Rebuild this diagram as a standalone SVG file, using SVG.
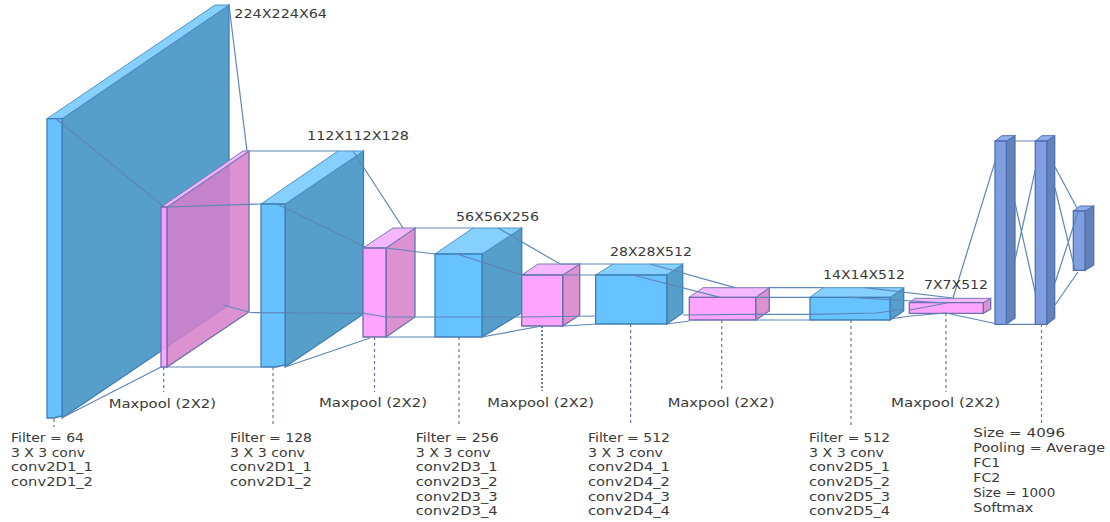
<svg xmlns="http://www.w3.org/2000/svg" width="1110" height="522" viewBox="0 0 1110 522">
<style>
.bf{fill:#66c3ff;stroke:#3f7db5;stroke-width:1.3}
.bt{fill:#85d0ff;stroke:#4f93c8;stroke-width:1}
.bs{fill:#559fca;stroke:#3f7db5;stroke-width:1.3}
.pf{fill:#ff9cff;fill-opacity:.92;stroke:#6b6fb0;stroke-width:1.3}
.pt{fill:#f4b4ff;fill-opacity:.95;stroke:#7a78b8;stroke-width:1}
.ps{fill:#d67fc9;fill-opacity:.86;stroke:#6b6fb0;stroke-width:1.3}
.ff{fill:#7f9fe0;stroke:#4f6fb0;stroke-width:1.3}
.ft{fill:#8fb0ea;stroke:#4f6fb0;stroke-width:1}
.fs{fill:#6282ba;stroke:#4f6fb0;stroke-width:1.3}
.c{fill:none;stroke:#5f86b8;stroke-width:1.2}
.d{fill:none;stroke:#62779f;stroke-width:1.2;stroke-dasharray:3 3}
text{font-family:"DejaVu Sans","Liberation Sans",sans-serif;font-size:11.5px;fill:#3a3a3a}
</style>
<g id="block1">
<polygon class="bs" points="62,118.7 229,5 229,305 62,418"/>
<polygon class="bt" points="47,118.7 62,118.7 229,5 215,5"/>
<polygon class="bf" points="47,118.7 62,118.7 62,416 54,418 47,418"/>
</g>
<g id="block2">
<polygon class="ps" points="167,207 249,151 249,312 167,367"/>
<polygon class="pt" points="161,207 167,207 249,151 243,151"/>
<polygon class="pf" points="161,207 167,207 167,367 161,367"/>
</g>
<g id="block3">
<polygon class="bs" points="285,204 363.5,151 363.5,314 285,367"/>
<polygon class="bt" points="261,204 285,204 363.5,151 338,151"/>
<polygon class="bf" points="261,204 285,204 285,365 276,367 261,367"/>
</g>
<g id="block4">
<polygon class="ps" points="386,248 415,228 415,317 386,337"/>
<polygon class="pt" points="363,248 386,248 415,228 393,228"/>
<polygon class="pf" points="363,248 386,248 386,337 363,337"/>
</g>
<g id="block5">
<polygon class="bs" points="482,254 521.7,228 521.7,313 482,337"/>
<polygon class="bt" points="435,254 482,254 521.7,228 473,228"/>
<polygon class="bf" points="435,254 482,254 482,337 435,337"/>
</g>
<g id="block6">
<polygon class="ps" points="562.7,275 579.7,264 579.7,315 562.7,326"/>
<polygon class="pt" points="521.7,275 562.7,275 579.7,264 538,264"/>
<polygon class="pf" points="521.7,275 562.7,275 562.7,326 521.7,326"/>
</g>
<g id="block7">
<polygon class="bs" points="666.7,275 682.7,264 682.7,313 666.7,324"/>
<polygon class="bt" points="595.7,275 666.7,275 682.7,264 613,264"/>
<polygon class="bf" points="595.7,275 666.7,275 666.7,324 595.7,324"/>
</g>
<g id="block8">
<polygon class="ps" points="755.7,297.3 769.3,287.7 769.3,311 755.7,320"/>
<polygon class="pt" points="689.3,297.3 755.7,297.3 769.3,287.7 703,287.7"/>
<polygon class="pf" points="689.3,297.3 755.7,297.3 755.7,320 689.3,320"/>
</g>
<g id="block9">
<polygon class="bs" points="890,297.3 903.7,287.7 903.7,311 890,320"/>
<polygon class="bt" points="810,297.3 890,297.3 903.7,287.7 823,287.7"/>
<polygon class="bf" points="810,297.3 890,297.3 890,320 810,320"/>
</g>
<g id="block10">
<polygon class="ps" points="983.3,302.7 990.7,298.3 990.7,309 983.3,313.3"/>
<polygon class="pt" points="909.3,302.7 983.3,302.7 990.7,298.3 915,298.3"/>
<polygon class="pf" points="909.3,302.7 983.3,302.7 983.3,313.3 909.3,313.3"/>
</g>
<g id="fc1">
<polygon class="fs" points="1006.3,141 1015,135.7 1015,318 1006.3,324.3"/>
<polygon class="ft" points="995,141 1006.3,141 1015,135.7 1002,135.7"/>
<polygon class="ff" points="995,141 1006.3,141 1006.3,324.3 995,324.3"/>
</g>
<g id="fc2">
<polygon class="fs" points="1046.7,141 1054.7,135.7 1054.7,318 1046.7,324.3"/>
<polygon class="ft" points="1035.3,141 1046.7,141 1054.7,135.7 1042,135.7"/>
<polygon class="ff" points="1035.3,141 1046.7,141 1046.7,324.3 1035.3,324.3"/>
</g>
<g id="fc3">
<polygon class="fs" points="1085,211 1093.7,206 1093.7,265 1085,270.3"/>
<polygon class="ft" points="1073.3,211 1085,211 1093.7,206 1080,206"/>
<polygon class="ff" points="1073.3,211 1085,211 1085,270.3 1073.3,270.3"/>
</g>
<g id="connectors">
<path class="c" d="M229,5L247,151M55,118L163,206M249,151H338M167,207L261,204M277,204L365,247M353,151L403,228M250,312.5L361.7,313.3M223,305L249,312M62,417.7L161,367M167,367H261M285,367L370,338"/>
<path class="c" d="M363,313L385,317L522,317L596,316M386,248L435,254M457,254L522,275L541.7,275M415,228H473M386,337H435M482,337L541.7,326M498,228L560,264H613M562.7,275H596"/>
<path class="c" d="M563,326L596,324M633,275L720,297.3M650,264L735,287.7M683,315L744,314.3H810L877,313L903.7,309M667,324L689.3,321M755.7,320H810M769.3,287.7H823M755.7,297.3H810M850,297.3L947,303M865,287.7L953,298M890,319L910,316L946,313M910,310L947,303"/>
<path class="c" d="M946,313L995,323.5M953,298L995,161.7M1015,141H1035.3M1006,324.3H1035.3M1015,203L1035.3,293M1015,260L1035.3,170M1055,167L1077,208M1055,188L1075,270M1055,283L1078,212M1055,305L1078,272"/>
<path class="d" d="M54,419V427M163.7,367V392M273,367V426M374.5,337V392M459,337V426M630.6,324V424M721.7,320V392M851,320V425M946,313V392M1041.5,324V424"/>
<path class="d" style="stroke-width:1.8;stroke-dasharray:2 2" d="M542,326V391"/>
</g>
<g id="labels">
<text x="234.3" y="17.7" textLength="92.7" lengthAdjust="spacingAndGlyphs">224X224X64</text>
<text x="307" y="140" textLength="102" lengthAdjust="spacingAndGlyphs">112X112X128</text>
<text x="456" y="221" textLength="83" lengthAdjust="spacingAndGlyphs">56X56X256</text>
<text x="610" y="255.7" textLength="82" lengthAdjust="spacingAndGlyphs">28X28X512</text>
<text x="823" y="279" textLength="82" lengthAdjust="spacingAndGlyphs">14X14X512</text>
<text x="924" y="289" textLength="64" lengthAdjust="spacingAndGlyphs">7X7X512</text>
<text x="108.7" y="407.7" textLength="107.3" lengthAdjust="spacingAndGlyphs">Maxpool (2X2)</text>
<text x="319" y="406.7" textLength="108" lengthAdjust="spacingAndGlyphs">Maxpool (2X2)</text>
<text x="487.3" y="406.7" textLength="106.7" lengthAdjust="spacingAndGlyphs">Maxpool (2X2)</text>
<text x="667.7" y="406.7" textLength="106.7" lengthAdjust="spacingAndGlyphs">Maxpool (2X2)</text>
<text x="891" y="406.7" textLength="109" lengthAdjust="spacingAndGlyphs">Maxpool (2X2)</text>
<text x="11" y="441.7" textLength="73" lengthAdjust="spacingAndGlyphs">Filter = 64</text>
<text x="11" y="456.7" textLength="74" lengthAdjust="spacingAndGlyphs">3 X 3 conv</text>
<text x="11" y="471" textLength="82" lengthAdjust="spacingAndGlyphs">conv2D1_1</text>
<text x="11" y="486.4" textLength="82" lengthAdjust="spacingAndGlyphs">conv2D1_2</text>
<text x="230" y="441.7" textLength="82" lengthAdjust="spacingAndGlyphs">Filter = 128</text>
<text x="230" y="456.7" textLength="75" lengthAdjust="spacingAndGlyphs">3 X 3 conv</text>
<text x="230" y="471" textLength="82" lengthAdjust="spacingAndGlyphs">conv2D1_1</text>
<text x="230" y="486.4" textLength="82" lengthAdjust="spacingAndGlyphs">conv2D1_2</text>
<text x="415.7" y="441.7" textLength="83" lengthAdjust="spacingAndGlyphs">Filter = 256</text>
<text x="415.7" y="456.7" textLength="75" lengthAdjust="spacingAndGlyphs">3 X 3 conv</text>
<text x="415.7" y="470.7" textLength="82" lengthAdjust="spacingAndGlyphs">conv2D3_1</text>
<text x="415.7" y="486" textLength="82" lengthAdjust="spacingAndGlyphs">conv2D3_2</text>
<text x="415.7" y="501" textLength="82" lengthAdjust="spacingAndGlyphs">conv2D3_3</text>
<text x="415.7" y="515" textLength="82" lengthAdjust="spacingAndGlyphs">conv2D3_4</text>
<text x="588" y="441.7" textLength="82" lengthAdjust="spacingAndGlyphs">Filter = 512</text>
<text x="588" y="456.7" textLength="75" lengthAdjust="spacingAndGlyphs">3 X 3 conv</text>
<text x="588" y="470.7" textLength="82" lengthAdjust="spacingAndGlyphs">conv2D4_1</text>
<text x="588" y="486" textLength="82" lengthAdjust="spacingAndGlyphs">conv2D4_2</text>
<text x="588" y="501" textLength="82" lengthAdjust="spacingAndGlyphs">conv2D4_3</text>
<text x="588" y="515" textLength="82" lengthAdjust="spacingAndGlyphs">conv2D4_4</text>
<text x="809" y="441.7" textLength="81" lengthAdjust="spacingAndGlyphs">Filter = 512</text>
<text x="809" y="456.7" textLength="75" lengthAdjust="spacingAndGlyphs">3 X 3 conv</text>
<text x="809" y="470.7" textLength="81" lengthAdjust="spacingAndGlyphs">conv2D5_1</text>
<text x="809" y="486" textLength="81" lengthAdjust="spacingAndGlyphs">conv2D5_2</text>
<text x="809" y="501" textLength="81" lengthAdjust="spacingAndGlyphs">conv2D5_3</text>
<text x="809" y="515" textLength="81" lengthAdjust="spacingAndGlyphs">conv2D5_4</text>
<text x="973.3" y="437.3" textLength="91.7" lengthAdjust="spacingAndGlyphs">Size = 4096</text>
<text x="973.3" y="452.3" textLength="131.7" lengthAdjust="spacingAndGlyphs">Pooling = Average</text>
<text x="973.3" y="467.3" textLength="27" lengthAdjust="spacingAndGlyphs">FC1</text>
<text x="973.3" y="481.7" textLength="27" lengthAdjust="spacingAndGlyphs">FC2</text>
<text x="973.3" y="496.7" textLength="82" lengthAdjust="spacingAndGlyphs">Size = 1000</text>
<text x="973.3" y="511.7" textLength="60" lengthAdjust="spacingAndGlyphs">Softmax</text>
</g>
</svg>
